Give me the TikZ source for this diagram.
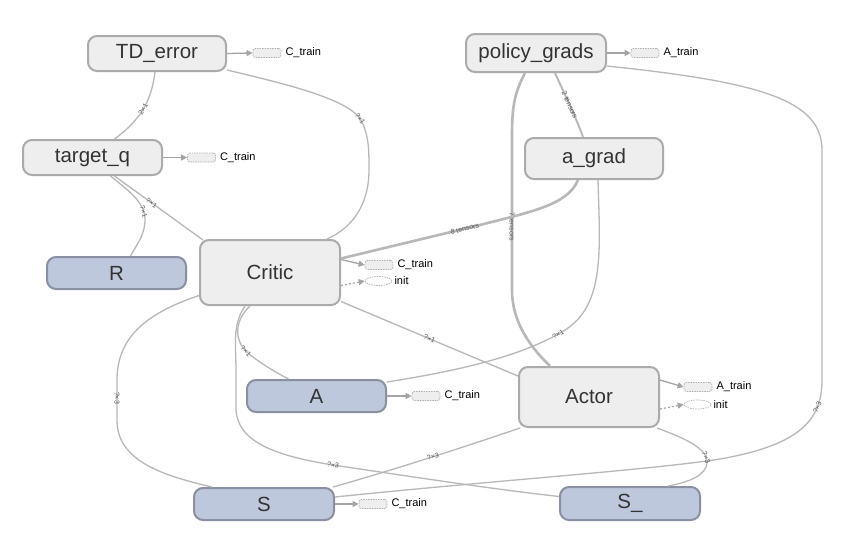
\documentclass[tikz,border=0pt]{standalone}
\usepackage{fontspec}
\setmainfont{Liberation Sans}
\usetikzlibrary{arrows.meta,shapes.geometric}
\definecolor{gfill}{HTML}{EEEEEE}
\definecolor{gdraw}{HTML}{ABABAB}
\definecolor{bfill}{HTML}{BEC8DD}
\definecolor{bdraw}{HTML}{8890A2}
\definecolor{edgec}{HTML}{B8B8B8}
\definecolor{lblc}{HTML}{555555}
\definecolor{txtc}{HTML}{333333}
\definecolor{stubd}{HTML}{B0B0B0}
\definecolor{arrc}{HTML}{A4A4A4}
\tikzset{
  opnode/.style={draw=gdraw, fill=gfill, line width=2pt, rounded corners=9pt,
    inner sep=0pt, text=txtc, font=\fontsize{20.5}{24}\selectfont},
  phnode/.style={opnode, draw=bdraw, fill=bfill},
  stubbox/.style={draw=stubd, fill=gfill, dash pattern=on 1.5pt off 1pt, line width=0.7pt,
    rounded corners=2.5pt, minimum width=28pt, minimum height=9pt, inner sep=0pt},
  stubell/.style={ellipse, draw=stubd, fill=white, dash pattern=on 1.5pt off 1pt, line width=0.7pt,
    minimum width=27pt, minimum height=9pt, inner sep=0pt},
  stublbl/.style={anchor=west, inner sep=0pt, text=black, font=\fontsize{11}{13}\selectfont},
  stubarrow/.style={draw=arrc, line width=1.3pt, -{Triangle[length=6pt,width=6pt]}},
  ctrlarrow/.style={draw=arrc, line width=1.2pt, dash pattern=on 2pt off 2pt, -{Triangle[length=6pt,width=6pt]}},
  edge/.style={draw=edgec, line width=1.3pt},
  midedge/.style={draw=edgec, line width=1.9pt},
  thickedge/.style={draw=edgec, line width=2.6pt},
  elbl/.style={sloped, inner sep=0pt, text=lblc, font=\fontsize{7}{8}\selectfont},
}
\begin{document}
\begin{tikzpicture}[x=1pt,y=-1pt]
\useasboundingbox[fill=white] (0,0) rectangle (844,552);

% main nodes
\node[opnode, minimum width=138pt, minimum height=35pt] (td) at (157,53.5) {TD\_error};
\node[opnode, minimum width=140pt, minimum height=38pt] (pg) at (536,53) {policy\_grads};
\node[opnode, minimum width=139pt, minimum height=35pt] (tq) at (92.5,157.5) {target\_q};
\node[opnode, minimum width=138pt, minimum height=41pt] (ag) at (594,158.5) {a\_grad};
\node[phnode, minimum width=139pt, minimum height=32pt] (r) at (116.5,273) {R};
\node[opnode, minimum width=140pt, minimum height=65pt] (critic) at (270,272.5) {Critic};
\node[phnode, minimum width=139pt, minimum height=32pt] (a) at (316.5,396) {A};
\node[opnode, minimum width=140pt, minimum height=60pt] (actor) at (589,397) {Actor};
\node[phnode, minimum width=140pt, minimum height=32pt] (s) at (264,504) {S};
\node[phnode, minimum width=140pt, minimum height=33pt] (s_) at (630,503.5) {S\_};

% stubs
\node[stubbox] (tdst) at (267,53) {};
\node[stublbl] (tdstl) at ([xshift=4pt]tdst.east) {C\_train};
\draw[stubarrow] (td.east) -- (tdst.west);

\node[stubbox] (pgst) at (645,53) {};
\node[stublbl] (pgstl) at ([xshift=4pt]pgst.east) {A\_train};
\draw[stubarrow] (pg.east) -- (pgst.west);

\node[stubbox] (tqst) at (201.5,157.5) {};
\node[stublbl] (tqstl) at ([xshift=4pt]tqst.east) {C\_train};
\draw[stubarrow] (tq.east) -- (tqst.west);

\node[stubbox] (crst) at (379,265) {};
\node[stublbl] (crstl) at ([xshift=4pt]crst.east) {C\_train};
\draw[stubarrow] ([yshift=13pt]critic.east) -- (crst.west);
\node[stubell] (crin) at (378.5,281) {};
\node[stublbl] (crinl) at ([xshift=2pt]crin.east) {init};
\draw[ctrlarrow] ([yshift=-13pt]critic.east) -- (crin.west);

\node[stubbox] (ast) at (426,396) {};
\node[stublbl] (astl) at ([xshift=4pt]ast.east) {C\_train};
\draw[stubarrow] (a.east) -- (ast.west);

\node[stubbox] (acst) at (698,387) {};
\node[stublbl] (acstl) at ([xshift=4pt]acst.east) {A\_train};
\draw[stubarrow] ([yshift=17pt]actor.east) -- (acst.west);
\node[stubell] (acin) at (697.5,404.5) {};
\node[stublbl] (acinl) at ([xshift=2pt]acin.east) {init};
\draw[ctrlarrow] ([yshift=-12pt]actor.east) -- (acin.west);

\node[stubbox] (sst) at (373,504) {};
\node[stublbl] (sstl) at ([xshift=4pt]sst.east) {C\_train};
\draw[stubarrow] (s.east) -- (sst.west);

% edges
\draw[edge] ([xshift=-2pt]td.south) .. controls (152,95) and (145,117) .. node[elbl, pos=0.55] {2×1} ([xshift=22pt]tq.north);

\draw[edge] ([yshift=2pt]td.south east) .. controls (290,85) and (352,100) .. node[elbl, pos=0.95] {?×1} (362,122)
  .. controls (369,137) and (369,150) .. (369,170)
  .. controls (369,205) and (352,228) .. ([xshift=57pt]critic.north);

\draw[edge] ([xshift=22pt]tq.south) -- node[elbl, pos=0.42] {?×1} ([xshift=4pt,yshift=-1pt]critic.north west);

\draw[edge] ([xshift=18pt]tq.south) .. controls (130,192) and (146,203) .. node[elbl, pos=0.8] {?×1} (145,222)
  .. controls (144,237) and (135,247) .. ([xshift=14pt]r.north);

\draw[midedge] ([xshift=19pt]pg.south) .. controls (565,95) and (575,115) .. node[elbl, pos=0.5] {2 tensors} ([xshift=-11pt]ag.north);

\draw[thickedge] ([xshift=-11pt]pg.south) .. controls (515,92) and (512,105) .. (512,135)
  -- node[elbl, pos=0.59] {7 tensors} (512,290)
  .. controls (512,320) and (528,345) .. ([xshift=-39pt]actor.north);

\draw[edge] ([yshift=7pt]s.east) .. controls (500,480) and (650,470) .. (720,459)
  .. controls (800,445) and (822,420) .. node[elbl, pos=0.75] {?×3} (822,380)
  -- (822,150) .. controls (822,100) and (760,82) .. ([yshift=-13pt]pg.east);

\draw[thickedge] ([yshift=14pt]critic.east) -- node[elbl, pos=0.89] {8 tensors} (480,225)
  .. controls (530,212) and (568,205) .. ([xshift=-16pt]ag.south);

\draw[edge] ([xshift=4pt]ag.south) .. controls (600,250) and (605,305) .. (565,330)
  .. controls (520,358) and (450,372) .. node[elbl, pos=0.05] {?×1} ([yshift=14pt]a.east);

\draw[edge] ([yshift=-29pt]critic.east) -- node[elbl, pos=0.5] {?×1} ([yshift=21pt]actor.west);

\draw[edge] ([xshift=-20pt]critic.south) .. controls (235,320) and (233,340) .. node[elbl, pos=0.95] {?×1} (248,353)
  .. controls (260,363) and (275,372) .. ([xshift=-28pt]a.north);

\draw[edge] ([xshift=-25pt]critic.south) .. controls (232,325) and (236,345) .. (236,370) -- (236,410)
  .. controls (238,440) and (270,455) .. node[elbl, pos=1] {?×3} (333,465)
  .. controls (420,478) and (500,490) .. ([yshift=7pt]s_.west);

\draw[edge] ([yshift=-23pt]critic.west) .. controls (150,312) and (117,335) .. (117,380)
  -- node[elbl, pos=0.45] {?×3} (117,420)
  .. controls (117,460) and (160,475) .. ([xshift=-52pt]s.north);

\draw[edge] ([xshift=2pt]actor.south west) .. controls (470,445) and (400,468) .. node[elbl, pos=0.5] {?×3} ([xshift=-2pt]s.north east);

\draw[edge] ([xshift=-3pt]actor.south east) .. controls (690,440) and (708,450) .. node[elbl, pos=0.85] {?×3} (707,463)
  .. controls (706,475) and (690,482) .. ([xshift=38pt]s_.north);

\end{tikzpicture}
\end{document}
